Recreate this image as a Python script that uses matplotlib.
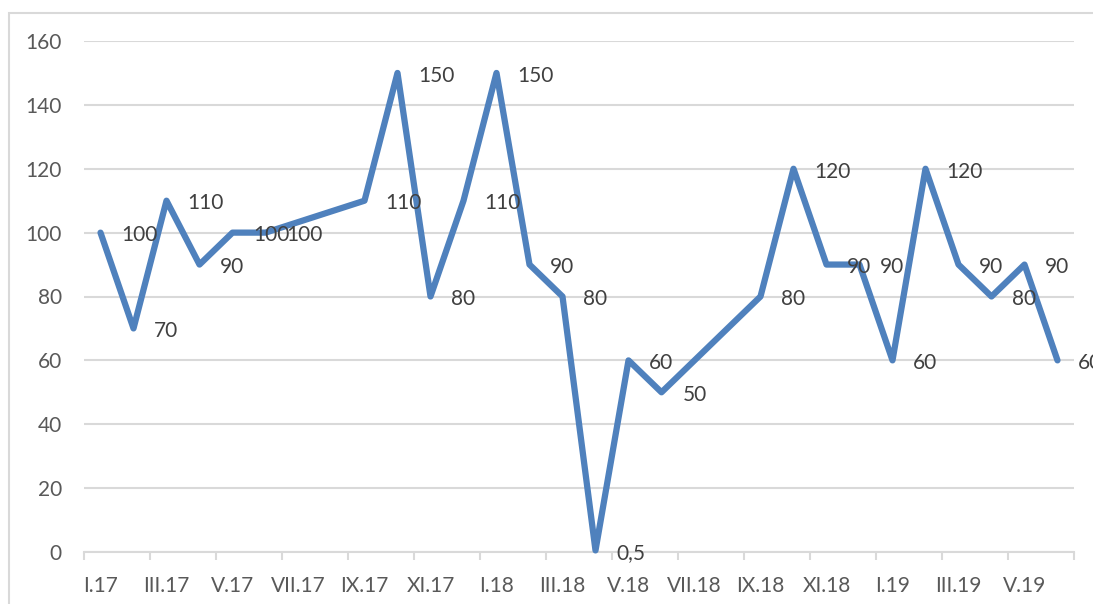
import numpy as np
import matplotlib
matplotlib.use("Agg")
import matplotlib.pyplot as plt
from matplotlib.patches import Rectangle

# monthly values, I.17 .. VI.19 (nan = no value, line joins across)
months = ["I", "II", "III", "IV", "V", "VI", "VII", "VIII", "IX", "X", "XI", "XII"]
years = ["17", "18", "19"]
categories = [m + "." + y for y in years for m in months][:30]
values = [100, 70, 110, 90, 100, 100, np.nan, np.nan, 110, 150, 80, 110,
          150, 90, 80, 0.5, 60, 50, np.nan, np.nan, 80, 120, 90, 90,
          60, 120, 90, 80, 90, 60]
value_labels = ["100", "70", "110", "90", "100", "100", "", "", "110", "150", "80", "110",
                "150", "90", "80", "0,5", "60", "50", "", "", "80", "120", "90", "90",
                "60", "120", "90", "80", "90", "60"]
yticks = [0, 20, 40, 60, 80, 100, 120, 140, 160]

plt.rcParams['font.family'] = ['Lato', 'DejaVu Sans']

W, H = 1093, 604
fig = plt.figure(figsize=(W / 100, H / 100), dpi=100)
ax = fig.add_axes([84 / W, 1 - 552 / H, (1074 - 84) / W, (552 - 41) / H])

# chart border (runs off right and bottom)
fig.patches.append(Rectangle((9 / W, -0.1), 1.2, 1 - 13 / H + 0.1, transform=fig.transFigure,
                             fill=False, edgecolor="#d9d9d9", linewidth=1.5))

x = np.arange(len(categories))
y = np.array(values, dtype=float)
ok = ~np.isnan(y)
ax.plot(x[ok], y[ok], color="#4f81bd", linewidth=4.5, solid_joinstyle="round",
        solid_capstyle="round", zorder=3, clip_on=False)

for xi, yi, lab in zip(x, y, value_labels):
    if np.isnan(yi):
        continue
    ax.annotate(lab, (xi, yi), xytext=(15, -2), textcoords="offset points",
                ha="left", va="center", fontsize=15, color="#404040", annotation_clip=False)

ax.set_xlim(-0.5, len(categories) - 0.5)
ax.set_ylim(0, 160)
ax.set_yticks(yticks)
ax.yaxis.grid(True, color="#d9d9d9", linewidth=1.5)
ax.set_axisbelow(True)

ax.set_xticks(x[::2])
ax.set_xticklabels(categories[::2])
ax.set_xticks(np.arange(-0.5, len(categories), 2), minor=True)
ax.tick_params(axis="x", which="major", length=0, pad=17, labelsize=15, labelcolor="#595959")
ax.tick_params(axis="x", which="minor", length=6, width=1.5, color="#d9d9d9")
ax.tick_params(axis="y", length=0, pad=16, labelsize=15, labelcolor="#595959")

for s in ["top", "right", "left"]:
    ax.spines[s].set_visible(False)
ax.spines["bottom"].set_color("#d9d9d9")
ax.spines["bottom"].set_linewidth(1.5)

fig.savefig("out.png", dpi=100)
